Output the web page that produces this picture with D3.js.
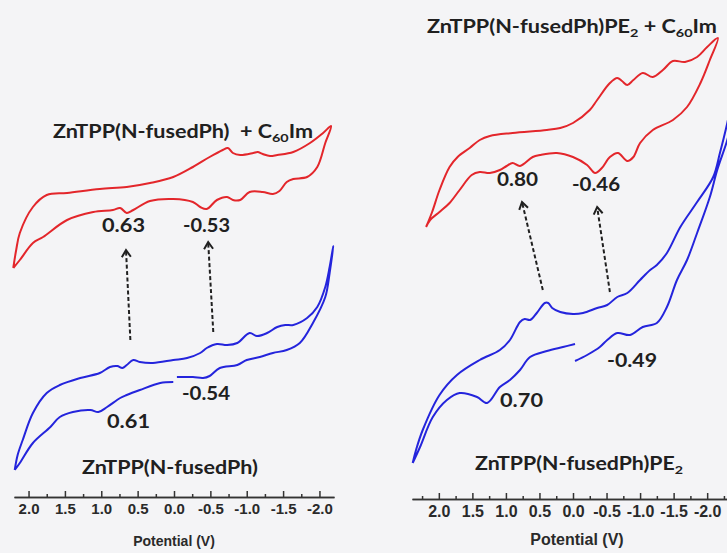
<!DOCTYPE html>
<html>
<head>
<meta charset="utf-8">
<script src="https://cdnjs.cloudflare.com/ajax/libs/d3/7.8.5/d3.min.js"></script>
<style>
  body { margin: 0; background: #f4f4f6; }
  svg { display: block; }
</style>
</head>
<body>
<div id="chart-area"></div>
<script>
// potential (V), current (arb. units); null = break in the trace
var leftRed = [
  [2.21,23.2],[2.17,25.0],[2.12,26.7],[1.94,29.3],[1.75,30.5],[1.47,30.7],[1.02,31.1],[0.65,31.3],[0.33,31.7],
  [0.01,32.3],[-0.26,33.3],[-0.49,34.3],[-0.67,35.0],[-0.74,35.2],[-0.81,34.7],[-0.91,34.5],[-1.09,34.7],
  [-1.15,34.8],[-1.22,34.6],[-1.32,34.4],[-1.42,34.5],[-1.64,34.8],[-1.87,35.7],[-2.05,36.7],[-2.16,37.4],
  [-2.08,35.7],[-1.97,33.3],[-1.83,32.3],[-1.64,32.1],[-1.55,31.8],[-1.45,30.9],[-1.36,30.6],[-1.22,30.8],
  [-1.04,30.8],[-0.91,30.0],[-0.81,30.0],[-0.73,30.3],[-0.59,30.0],[-0.45,29.1],[-0.36,29.3],[-0.26,29.8],
  [0.01,30.1],[0.33,29.9],[0.56,29.0],[0.65,28.7],[0.74,29.2],[0.84,29.0],[1.11,28.8],[1.47,28.0],
  [1.80,26.3],[1.94,25.7],[2.12,24.0],[2.21,23.2]
];
var leftBlue = [
  [2.19,3.0],[2.15,4.5],[2.08,6.0],[1.94,8.7],[1.75,10.7],[1.57,11.5],[1.29,12.2],[1.02,12.7],[0.88,13.3],
  [0.78,13.4],[0.71,13.2],[0.65,13.5],[0.56,14.0],[0.47,13.8],[0.29,13.7],[0.01,14.0],[-0.18,14.2],
  [-0.36,14.7],[-0.45,15.2],[-0.59,15.6],[-0.73,15.5],[-0.87,15.7],[-1.04,16.7],[-1.14,16.4],[-1.28,16.7],
  [-1.42,17.3],[-1.53,17.5],[-1.64,17.5],[-1.83,18.2],[-1.97,19.3],[-2.08,21.3],[-2.14,23.3],[-2.19,25.4],
  [-2.14,22.7],[-2.08,20.3],[-1.91,17.7],[-1.73,15.7],[-1.55,15.0],[-1.36,14.7],[-1.18,14.3],[-1.00,14.0],
  [-0.87,13.5],[-0.63,13.2],[-0.49,12.4],[-0.40,12.2],[-0.26,12.3],[-0.04,12.3],
  null,
  [0.01,11.8],[0.19,11.7],[0.47,11.0],[0.65,10.5],[0.74,10.2],[0.92,9.3],[1.04,8.8],[1.15,9.0],[1.39,8.8],
  [1.57,8.3],[1.70,7.3],[1.94,5.7],[2.12,3.7],[2.19,3.0]
];
var rightRed = [
  [2.19,27.3],[2.10,28.8],[1.99,31.0],[1.84,33.3],[1.72,34.3],[1.54,35.2],[1.39,36.0],[1.24,36.4],[0.90,36.7],
  [0.39,37.0],[0.19,37.2],[0,37.7],[-0.25,39.0],[-0.36,40.0],[-0.55,41.7],[-0.66,42.2],[-0.73,41.9],
  [-0.81,41.5],[-0.90,42.0],[-1.04,42.7],[-1.19,42.3],[-1.34,43.0],[-1.49,43.9],[-1.67,43.8],[-1.85,44.3],
  [-2.00,45.3],[-2.16,46.2],
  [-2.04,44.0],[-1.90,41.7],[-1.70,39.3],[-1.49,38.0],[-1.19,37.0],[-1.00,35.7],[-0.90,34.3],[-0.81,33.9],
  [-0.67,34.7],[-0.55,34.3],[-0.43,33.2],[-0.33,32.7],[-0.21,33.5],[0,34.3],[0.24,34.7],[0.49,34.5],
  [0.60,34.3],[0.79,33.4],[0.90,33.7],[0.99,33.4],[1.09,33.0],[1.24,32.7],[1.39,32.8],[1.51,32.5],
  [1.69,31.0],[1.84,29.7],[1.99,28.8],[2.13,28.0],[2.19,27.3]
];
var rightBlue = [
  [2.39,3.7],[2.34,5.0],[2.24,7.0],[1.99,10.5],[1.73,12.5],[1.39,14.0],[1.09,15.0],[0.94,16.0],[0.79,17.8],
  [0.72,18.1],[0.64,18.0],[0.54,18.7],[0.42,19.7],[0.37,19.7],[0.31,19.2],[0.19,18.8],[0,18.6],[-0.15,18.7],
  [-0.36,19.2],[-0.51,19.5],[-0.66,20.3],[-0.81,20.7],[-1.00,22.0],[-1.15,23.0],[-1.25,23.5],[-1.40,24.7],
  [-1.60,27.3],[-1.85,29.8],[-2.09,32.3],[-2.19,34.7],[-2.30,37.7],[-2.37,40.0],
  [-2.37,38.0],[-2.30,36.0],[-2.15,33.0],[-2.04,30.3],[-1.85,26.7],[-1.70,24.0],[-1.55,22.0],[-1.40,19.3],
  [-1.25,17.7],[-1.04,17.3],[-0.85,16.5],[-0.66,16.7],[-0.51,16.0],[-0.40,15.3],[-0.21,14.5],[-0.03,13.9],
  null,
  [-0.03,15.6],[0.15,15.3],[0.39,14.9],[0.64,14.3],[0.79,13.0],[0.94,12.0],[1.09,11.3],[1.28,9.7],[1.43,10.3],
  [1.69,10.7],[1.88,10.0],[2.09,8.3],[2.28,5.3],[2.39,3.7]
];

var majorTicks = [2.0, 1.5, 1.0, 0.5, 0.0, -0.5, -1.0, -1.5, -2.0];
var minorTicksLeft = [1.75, 1.25, 0.75, 0.25, -0.25, -0.75, -1.25, -1.75];
var minorTicksRight = [2.25, 1.75, 1.25, 0.75, 0.25, -0.25, -0.75, -1.25, -1.75, -2.25];

// arrows: [fromE, fromI, toE, toI]
var leftArrows = [[0.60, 16.0, 0.66, 25.0], [-0.54, 16.8, -0.47, 25.8]];
var rightArrows = [[0.45, 21.0, 0.76, 29.8], [-0.55, 20.8, -0.36, 29.3]];

var width = 727, height = 553;
var red = "#e3262b", blue = "#2424dc", ink = "#202020";

var svg = d3.select("#chart-area").append("svg")
    .attr("width", width)
    .attr("height", height);

svg.append("defs").append("marker")
    .attr("id", "head")
    .attr("markerUnits", "userSpaceOnUse")
    .attr("viewBox", "0 0 12 12")
    .attr("refX", 10).attr("refY", 6)
    .attr("markerWidth", 12).attr("markerHeight", 12)
    .attr("orient", "auto")
  .append("path")
    .attr("d", "M3,1.5L10,6L3,10.5")
    .attr("fill", "none")
    .attr("stroke", ink)
    .attr("stroke-width", 2);

var y = d3.scaleLinear().domain([0, 50]).range([500, 0]);

var panels = [
  { x: d3.scaleLinear().domain([2.2, -2.2]).range([14, 334]), axisY: 497, tickFont: 15, pad: 6,
    minor: minorTicksLeft, curves: [leftRed, leftBlue], arrows: leftArrows,
    title: { x: 174, y: 546, size: 14 } },
  { x: d3.scaleLinear().domain([2.4, -2.4]).range([412, 734]), axisY: 499, tickFont: 16, pad: 6.5,
    minor: minorTicksRight, curves: [rightRed, rightBlue], arrows: rightArrows,
    title: { x: 577, y: 545, size: 16 } }
];

panels.forEach((p) => {
    var minorAxis = svg.append("g")
        .attr("transform", "translate(0," + p.axisY + ")")
        .call(d3.axisBottom(p.x).tickValues(p.minor).tickSize(-3).tickSizeOuter(0).tickFormat(""));
    var majorAxis = svg.append("g")
        .attr("transform", "translate(0," + p.axisY + ")")
        .call(d3.axisBottom(p.x).tickValues(majorTicks).tickSize(-6).tickSizeOuter(0)
            .tickPadding(p.pad).tickFormat((d) => d.toFixed(1)));
    [minorAxis, majorAxis].forEach((g) => {
        g.selectAll("path, line").attr("stroke", "#333").attr("stroke-width", 1.5);
    });
    majorAxis.selectAll("text")
        .attr("font-family", "'Liberation Sans', Arial, sans-serif")
        .attr("font-weight", "bold")
        .attr("font-size", p.tickFont)
        .attr("fill", "#2a2a2a");

    svg.append("text")
        .attr("x", p.title.x).attr("y", p.title.y)
        .attr("text-anchor", "middle")
        .attr("font-family", "'Liberation Sans', Arial, sans-serif")
        .attr("font-weight", "bold")
        .attr("font-size", p.title.size)
        .attr("fill", "#2a2a2a")
        .text("Potential (V)");

    var line = d3.line()
        .defined((d) => d !== null)
        .x((d) => p.x(d[0]))
        .y((d) => y(d[1]))
        .curve(d3.curveCatmullRom.alpha(0.5));

    svg.selectAll(null)
        .data(p.curves)
      .enter().append("path")
        .attr("d", line)
        .attr("fill", "none")
        .attr("stroke", (d, i) => i === 0 ? red : blue)
        .attr("stroke-width", 2)
        .attr("stroke-linejoin", "round");

    svg.selectAll(null)
        .data(p.arrows)
      .enter().append("line")
        .attr("x1", (d) => p.x(d[0])).attr("y1", (d) => y(d[1]))
        .attr("x2", (d) => p.x(d[2])).attr("y2", (d) => y(d[3]))
        .attr("stroke", ink)
        .attr("stroke-width", 2)
        .attr("stroke-dasharray", "4,2.5")
        .attr("marker-end", "url(#head)");
});

// text annotations: pieces [text, isSub], left edge, right edge, baseline
function label(parts, x0, x1, base) {
    var t = svg.append("text")
        .attr("x", x0).attr("y", base)
        .attr("font-family", "Lato, 'Open Sans', sans-serif")
        .attr("font-weight", "bold")
        .attr("font-size", 18)
        .attr("fill", ink)
        .attr("textLength", x1 - x0)
        .attr("lengthAdjust", "spacingAndGlyphs");
    var shifted = false;
    parts.forEach((part) => {
        var s = t.append("tspan").text(part[0]);
        if (part[1]) { s.attr("font-size", 12).attr("dy", 4); shifted = true; }
        else if (shifted) { s.attr("dy", -4); shifted = false; }
    });
}

label([["ZnTPP(N-fusedPh)\u00a0 + C"], ["60", 1], ["Im"]], 53, 313, 138);
label([["0.63"]], 102, 145, 232);
label([["-0.53"]], 183, 230, 232);
label([["-0.54"]], 182, 230, 400);
label([["0.61"]], 107, 150, 428);
label([["ZnTPP(N-fusedPh)"]], 82, 258, 474);

label([["ZnTPP(N-fusedPh)PE"], ["2", 1], [" + C"], ["60", 1], ["Im"]], 427, 717, 33);
label([["0.80"]], 497, 538, 186);
label([["-0.46"]], 572, 620, 191);
label([["-0.49"]], 607, 657, 367);
label([["0.70"]], 500, 543, 407);
label([["ZnTPP(N-fusedPh)PE"], ["2", 1]], 475, 683, 470);
</script>
</body>
</html>
